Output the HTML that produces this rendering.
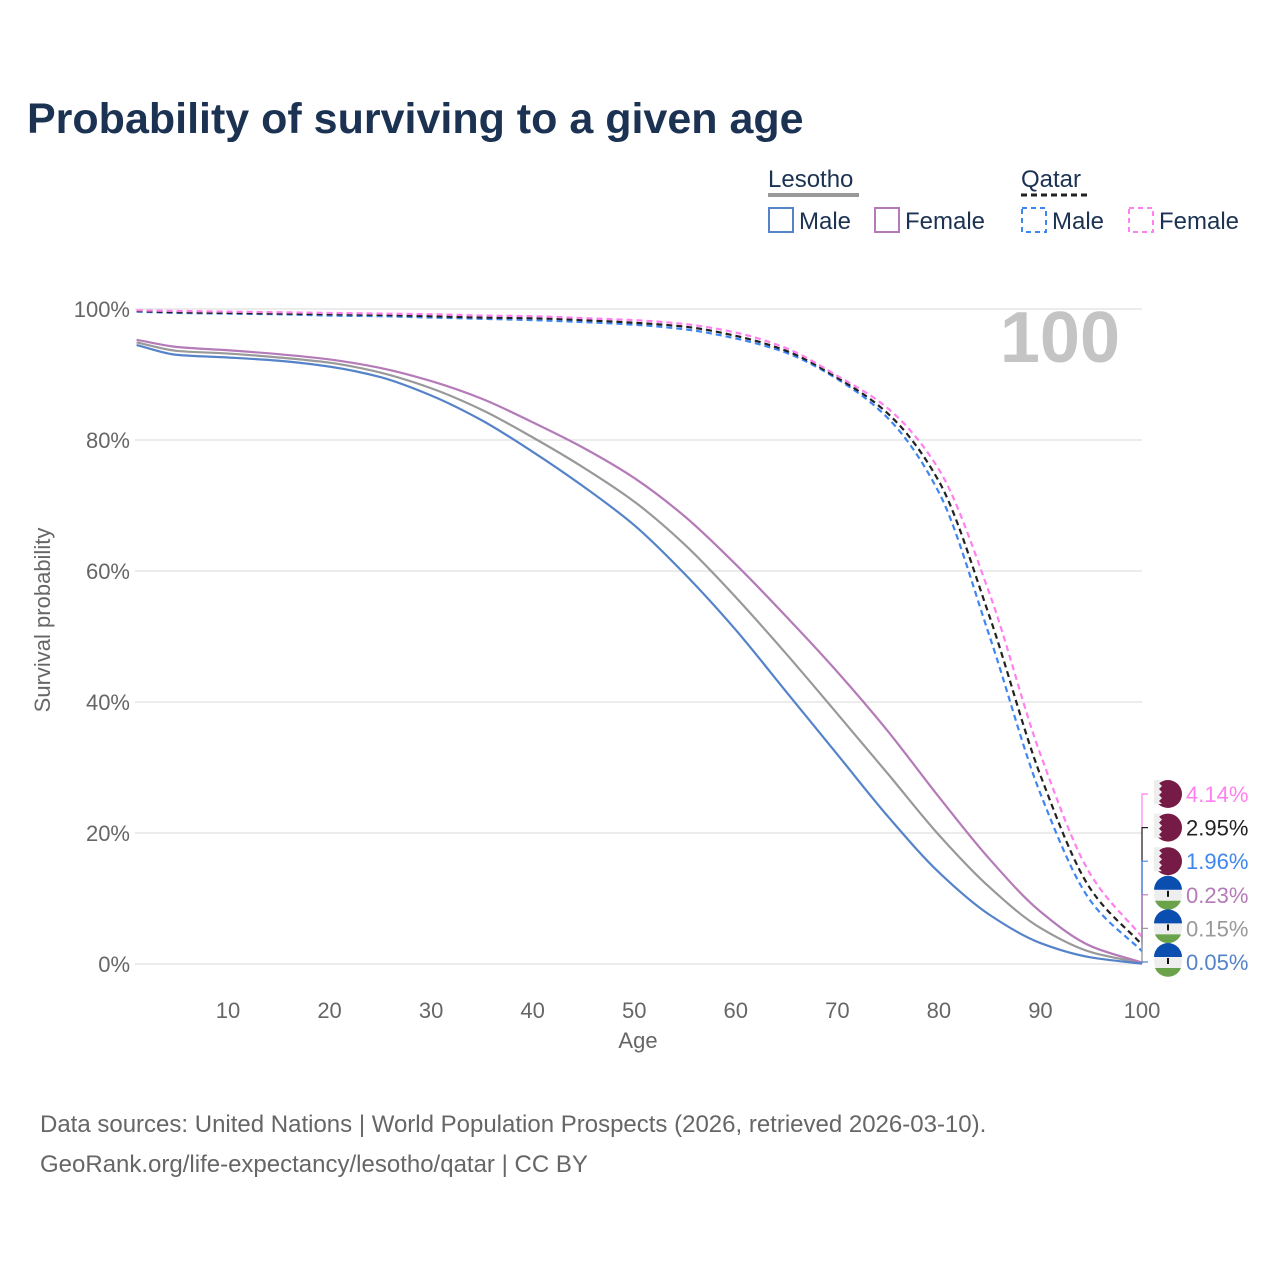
<!DOCTYPE html>
<html><head><meta charset="utf-8"><style>
html,body{margin:0;padding:0;background:#fff}
svg{display:block;font-family:"Liberation Sans",sans-serif}
</style></head><body>
<svg id="chart" width="1280" height="1280" viewBox="0 0 1280 1280">
<text x="27" y="133" font-size="43" font-weight="bold" fill="#1b3252">Probability of surviving to a given age</text>
<g>
<text x="768" y="187" font-size="24" fill="#1b3252">Lesotho</text>
<line x1="768" y1="195" x2="859" y2="195" stroke="#999" stroke-width="4"/>
<text x="1021" y="187" font-size="24" fill="#1b3252">Qatar</text>
<line x1="1021" y1="195" x2="1088" y2="195" stroke="#222" stroke-width="3" stroke-dasharray="6,4"/>
<g><rect x="769" y="208" width="24" height="24" fill="none" stroke="#5583c9" stroke-width="2"/><text x="799" y="229" font-size="24" fill="#1b3252">Male</text></g>
<g><rect x="875" y="208" width="24" height="24" fill="none" stroke="#b57ab8" stroke-width="2"/><text x="905" y="229" font-size="24" fill="#1b3252">Female</text></g>
<g><rect x="1022" y="208" width="24" height="24" fill="none" stroke="#3f86f0" stroke-width="2" stroke-dasharray="5,4"/><text x="1052" y="229" font-size="24" fill="#1b3252">Male</text></g>
<g><rect x="1129" y="208" width="24" height="24" fill="none" stroke="#ff80ee" stroke-width="2" stroke-dasharray="5,4"/><text x="1159" y="229" font-size="24" fill="#1b3252">Female</text></g>
</g>
<text x="1120" y="362" font-size="72" font-weight="bold" fill="#c4c4c4" text-anchor="end">100</text>
<g id="grid"></g><g id="axes"></g><g id="series"></g><g id="ends"></g>
<text transform="translate(50,620) rotate(-90)" font-size="22" fill="#666" text-anchor="middle">Survival probability</text>
<text x="638" y="1048" font-size="22" fill="#666" text-anchor="middle">Age</text>
<text x="40" y="1132" font-size="24" fill="#666">Data sources: United Nations | World Population Prospects (2026, retrieved 2026-03-10).</text>
<text x="40" y="1172" font-size="24" fill="#666">GeoRank.org/life-expectancy/lesotho/qatar | CC BY</text>
</svg>
<script>
const ages=[1,5,10,15,20,25,30,35,40,45,50,55,60,65,70,75,80,85,90,95,100];
const lesMale=[94.5,93.0,92.6,92.1,91.2,89.6,86.8,83.0,78.2,72.9,67.0,59.5,51.0,41.5,32.0,22.5,14.0,7.5,3.2,1.0,0.05];
const lesFemale=[95.3,94.2,93.7,93.1,92.3,91.0,89.0,86.3,82.7,78.8,74.2,68.3,61.0,53.0,44.6,35.5,25.5,16.0,8.0,2.7,0.23];
const lesTotal=[94.9,93.6,93.2,92.6,91.8,90.3,87.9,84.6,80.4,75.8,70.6,64.0,56.0,47.3,38.2,29.0,19.7,11.7,5.5,1.8,0.15];
const qatMale=[99.6,99.4,99.3,99.2,99.0,98.9,98.7,98.5,98.3,98.0,97.6,96.9,95.5,93.3,89.3,83.3,72.0,50.0,26.0,9.5,1.96];
const qatFemale=[99.8,99.7,99.6,99.5,99.4,99.3,99.2,99.0,98.9,98.6,98.3,97.7,96.4,94.0,89.8,84.8,75.5,56.5,32.0,13.5,4.14];
const qatTotal=[99.7,99.5,99.4,99.3,99.2,99.1,98.9,98.7,98.6,98.3,97.9,97.3,95.9,93.6,89.5,84.0,73.7,53.0,28.8,11.3,2.95];
const xTicks=[10,20,30,40,50,60,70,80,90,100];
const yTicks=[0,20,40,60,80,100];
const endLabels=["4.14%","2.95%","1.96%","0.23%","0.15%","0.05%"];
const NS="http://www.w3.org/2000/svg";
const X=a=>136.6+(a-1)*(1142-136.6)/99;
const Y=v=>964-v*6.55;
function mk(t,attrs,parent){const e=document.createElementNS(NS,t);for(const k in attrs)e.setAttribute(k,attrs[k]);parent.appendChild(e);return e;}
const grid=document.getElementById('grid'),axes=document.getElementById('axes'),ser=document.getElementById('series'),ends=document.getElementById('ends');
yTicks.forEach(v=>{
 const l=mk('line',{x1:135,x2:1142,y1:Y(v),y2:Y(v),stroke:'#e6e6e6','stroke-width':1.5},grid);
 
 
 const t=mk('text',{x:130,y:Y(v)+8,'font-size':22,fill:'#666','text-anchor':'end'},axes);
 t.textContent=v+'%';
 
 
});
xTicks.forEach(a=>{
 const t=mk('text',{x:X(a),y:1018,'font-size':22,fill:'#666','text-anchor':'middle'},axes);
 t.textContent=a;
 
 
});
// monotone cubic (Fritsch-Carlson) path
function path(vals){
 const xs=ages.map(X),ys=vals.map(Y),n=xs.length;
 const d=[],m=new Array(n);
 for(let i=0;i<n-1;i++)d.push((ys[i+1]-ys[i])/(xs[i+1]-xs[i]));
 m[0]=d[0];m[n-1]=d[n-2];
 for(let i=1;i<n-1;i++){if(d[i-1]*d[i]<=0)m[i]=0;else{const h0=xs[i]-xs[i-1],h1=xs[i+1]-xs[i];const w1=2*h1+h0,w2=h1+2*h0;m[i]=(w1+w2)/(w1/d[i-1]+w2/d[i]);}}
 let s='M'+xs[0]+','+ys[0];
 for(let i=0;i<n-1;i++){const h=(xs[i+1]-xs[i])/3;
  s+=` C${xs[i]+h},${ys[i]+m[i]*h} ${xs[i+1]-h},${ys[i+1]-m[i+1]*h} ${xs[i+1]},${ys[i+1]}`;}
 return s;}
const series=[
 {n:'lesotho-total',v:lesTotal,c:'#999',d:null},
 {n:'lesotho-female',v:lesFemale,c:'#b57ab8',d:null},
 {n:'lesotho-male',v:lesMale,c:'#5583c9',d:null},
 {n:'qatar-male',v:qatMale,c:'#3f86f0',d:'6,4'},
 {n:'qatar-total',v:qatTotal,c:'#222',d:'6,4'},
 {n:'qatar-female',v:qatFemale,c:'#ff80ee',d:'6,4'}];
series.forEach(s=>{
 const p=mk('path',{d:path(s.v),fill:'none',stroke:s.c,'stroke-width':2.2},ser);
 if(s.d)p.setAttribute('stroke-dasharray',s.d);
 
 
});
const order=[[qatFemale,'#ff80ee','qatar'],[qatTotal,'#222','qatar'],[qatMale,'#3f86f0','qatar'],[lesFemale,'#b57ab8','lesotho'],[lesTotal,'#999','lesotho'],[lesMale,'#5583c9','lesotho']];
order.forEach((o,i)=>{
 const ly=794+i*33.6,vy=Y(o[0][o[0].length-1]);
 mk('polyline',{points:`1142,${vy} 1142,${ly} 1148,${ly}`,fill:'none',stroke:o[1],'stroke-width':1.2},ends);
 const g=mk('g',{},ends);
 
 
 const cx=1168;
 if(o[2]==='qatar'){
  mk('circle',{cx:cx,cy:ly,r:14,fill:'#751b45'},g);
  mk('path',{d:`M${cx-14},${ly-14} h8 l-3,3 l3,3 l-3,3 l3,3 l-3,3 l3,3 l-3,3 l3,3 h-8z`,fill:'#eee'},g);
 }else{
  mk('circle',{cx:cx,cy:ly,r:14,fill:'#eee'},g);
  mk('path',{d:`M${cx-14},${ly-5} A14,14 0 0 1 ${cx+14},${ly-5} Z`,fill:'#0a4fb0'},g);
  mk('path',{d:`M${cx-13},${ly+6} L${cx+13},${ly+6} A14,14 0 0 1 ${cx-13},${ly+6} Z`,fill:'#6aa34a'},g);
  mk('rect',{x:cx-1,y:ly-4,width:2,height:6,fill:'#111'},g);
 }
 const t=mk('text',{x:1186,y:ly+8,'font-size':22,fill:o[1]},ends);
 t.textContent=endLabels[i];
 
 
});
</script>
</body></html>
